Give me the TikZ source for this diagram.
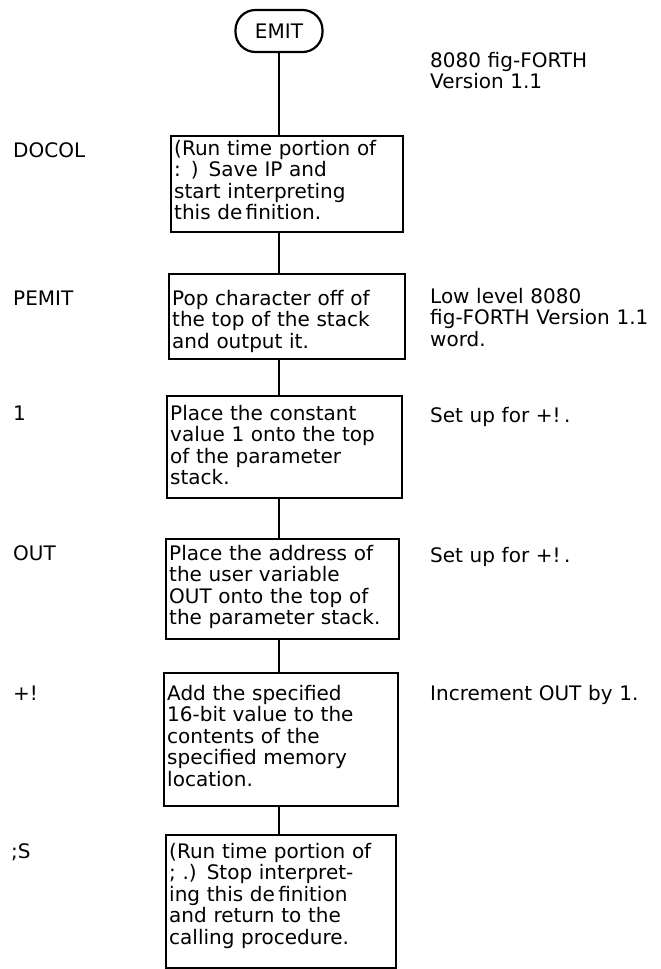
\documentclass[tikz,border=0pt]{standalone}
\usepackage{fontspec}
\setmainfont{DejaVu Sans}
\begin{document}
\begin{tikzpicture}[x=1pt,y=-1pt,
  every node/.style={font=\fontsize{20}{21.5}\selectfont},
  wire/.style={line width=2.2pt},
  boxnode/.style={draw,line width=2.2pt,inner sep=0pt,anchor=north west},
  term/.style={draw,line width=2.2pt,rounded corners=20pt,minimum width=87pt,minimum height=42pt,inner sep=0pt},
  txt/.style={inner sep=0pt,anchor=base west,align=left,text width=232pt},
  note/.style={inner sep=0pt,anchor=base west,align=left,text width=231pt},
  lbl/.style={inner sep=0pt,anchor=base west,align=left}]
\useasboundingbox (0,0) rectangle (661,969);
% terminal
\node[term] (emit) at (279,31) {EMIT};
% boxes
\node[boxnode,minimum width=232pt,minimum height=96pt] (b1) at (170,135) {};
\node[boxnode,minimum width=236pt,minimum height=85pt] (b2) at (168,273) {};
\node[boxnode,minimum width=235pt,minimum height=102pt] (b3) at (166,395) {};
\node[boxnode,minimum width=233pt,minimum height=100pt] (b4) at (165,538) {};
\node[boxnode,minimum width=234pt,minimum height=133pt] (b5) at (163,672) {};
\node[boxnode,minimum width=230pt,minimum height=133pt] (b6) at (165,834) {};
% box texts
\node[txt] (t1) at (174,155) {(Run time portion of\\: ) Save IP and\\start interpreting\\this de\,finition.};
\node[txt] (t2) at (172,305) {Pop character off of\\the top of the stack\\and output it.};
\node[txt] (t3) at (170,420) {Place the constant\\value 1 onto the top\\of the parameter\\stack.};
\node[txt] (t4) at (169,560) {Place the address of\\the user variable\\OUT onto the top of\\the parameter stack.};
\node[txt] (t5) at (167,700) {Add the specified\\16-bit value to the\\contents of the\\specified memory\\location.};
\node[txt] (t6) at (169,858) {(Run time portion of\\; .) Stop interpret-\\ing this de\,finition\\and return to the\\calling procedure.};
% left labels
\node[lbl] (l1) at (13,157) {DOCOL};
\node[lbl] (l2) at (13,305) {PEMIT};
\node[lbl] (l3) at (13,420) {1};
\node[lbl] (l4) at (13,560) {OUT};
\node[lbl] (l5) at (13,700) {+!};
\node[lbl] (l6) at (11,858) {;S};
% right notes
\node[note] (r0) at (430,67) {8080 fig-FORTH\\Version 1.1};
\node[note] (r2) at (430,303) {Low level 8080\\fig-FORTH Version 1.1\\word.};
\node[note] (r3) at (430,422) {Set up for +!\,.};
\node[note] (r4) at (430,562) {Set up for +!\,.};
\node[note] (r5) at (430,700) {Increment OUT by 1.};
% connectors
\draw[wire] (emit.south) -- (emit.south |- b1.north);
\draw[wire] (emit.south |- b1.south) -- (emit.south |- b2.north);
\draw[wire] (emit.south |- b2.south) -- (emit.south |- b3.north);
\draw[wire] (emit.south |- b3.south) -- (emit.south |- b4.north);
\draw[wire] (emit.south |- b4.south) -- (emit.south |- b5.north);
\draw[wire] (emit.south |- b5.south) -- (emit.south |- b6.north);
\end{tikzpicture}
\end{document}
